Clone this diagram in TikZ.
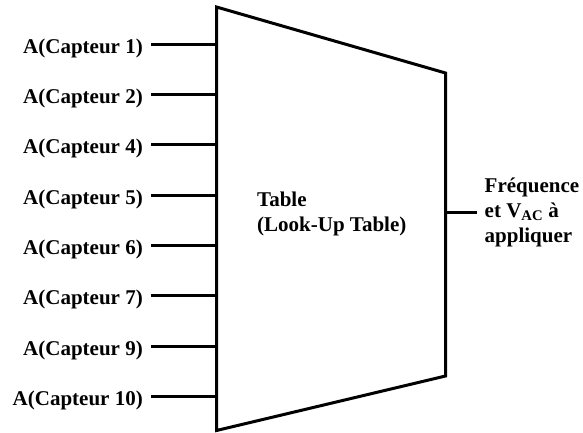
\documentclass[tikz,border=0pt]{standalone}
\usepackage{fontspec}
\setmainfont{Liberation Serif}
\usetikzlibrary{positioning}
\tikzset{
	% text and wire styles
	txt/.style   ={font=\bfseries\fontsize{21}{25}\selectfont, inner sep=0pt},
	inlbl/.style ={txt, anchor=base east, inner xsep=8pt},
	outlbl/.style={txt, align=left, inner xsep=8pt},
	wire/.style  ={line width=3pt},
	lut/.style   ={line width=3pt, line join=miter},
}

\begin{document}
\begin{tikzpicture}[x=1pt, y=-1pt]
	\useasboundingbox (0,0) rectangle (583,432);
	% look-up table block
	\coordinate (tl) at (216.5,7);
	\coordinate (tr) at (445.5,73);
	\coordinate (br) at (445.5,376);
	\coordinate (bl) at (216.5,430.5);
	\draw[lut] (tl) -- (tr) -- (br) -- (bl) -- cycle;
	\node[txt, align=left, anchor=west] (tbl) at (257,214) {Table\\(Look-Up Table)};
	% sensor inputs
	\foreach \n/\y [count=\i] in {1/44.5,2/94.5,4/144.5,5/195.5,6/245.5,7/295.5,9/346.5,10/396.5} {
		\coordinate (in\i) at (216.5,\y);
		\node[inlbl] (cap\i) at (151,\y+8.5) {A(Capteur \n)};
		\draw[wire] (cap\i.east |- in\i) -- (in\i);
	}
	% output
	\coordinate (out) at (445.5,212.5);
	\node[outlbl, right=31pt of out] (res) {Fréquence\\et V\textsubscript{AC} à\\appliquer};
	\draw[wire] (out) -- (res.west);
\end{tikzpicture}
\end{document}
